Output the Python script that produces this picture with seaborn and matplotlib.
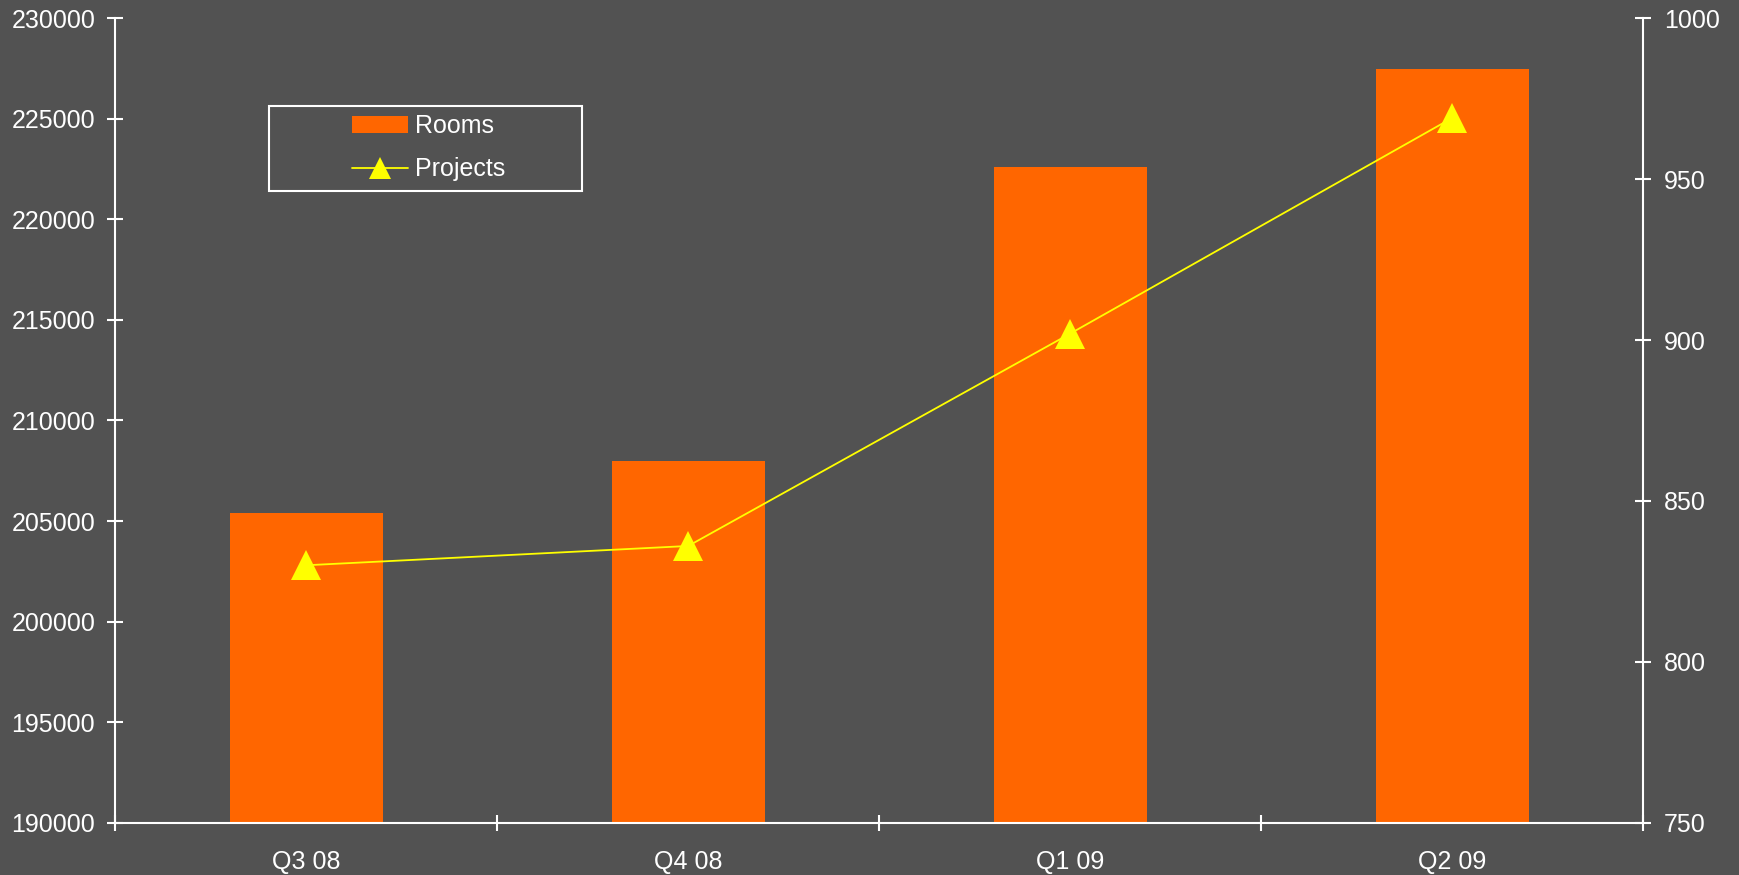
import numpy as np
import matplotlib
matplotlib.use("Agg")
import matplotlib.pyplot as plt
import seaborn as sns
from matplotlib.patches import Patch, Rectangle
from matplotlib.lines import Line2D

# ---- data ----
quarters = ["Q3 08", "Q4 08", "Q1 09", "Q2 09"]
rooms = [205400, 208000, 222600, 227500]
projects = [830, 836, 902, 969]
rooms_ticks = [190000, 195000, 200000, 205000, 210000, 215000, 220000, 225000, 230000]
projects_ticks = [750, 800, 850, 900, 950, 1000]

BG = "#525252"
ORANGE = "#FF6600"
YELLOW = "#FFFF00"
WHITE = "#FFFFFF"
FS = 18

sns.set_theme(style="white")
plt.rcParams["font.family"] = ["Liberation Sans", "DejaVu Sans"]
plt.rcParams["font.size"] = FS

fig = plt.figure(figsize=(17.4, 8.75), dpi=100, facecolor=BG)
ax = fig.add_axes([0.0663, 0.0598, 0.8780, 0.9193])
ax.set_facecolor(BG)

sns.barplot(x=quarters, y=rooms, ax=ax, color=ORANGE, saturation=1, width=0.4,
            edgecolor="none", linewidth=0)

ax2 = ax.twinx()
sns.pointplot(x=quarters, y=projects, ax=ax2, color=YELLOW, marker="^",
              linestyle="-", markersize=21, linewidth=1.3, errorbar=None,
              markeredgewidth=0)

ax.set_ylim(rooms_ticks[0], rooms_ticks[-1])
ax2.set_ylim(projects_ticks[0], projects_ticks[-1])
ax.set_xlim(-0.5, len(quarters) - 0.5)

ax.set_yticks(rooms_ticks)
ax.set_yticklabels([str(t) for t in rooms_ticks])
ax2.set_yticks(projects_ticks)
ax2.set_yticklabels([str(t) for t in projects_ticks])

# category boundary ticks (major), labels at centres (minor)
ax.set_xticks(np.arange(len(quarters) + 1) - 0.5, labels=[""] * (len(quarters) + 1))
ax.set_xticks(np.arange(len(quarters)), labels=quarters, minor=True)

for a in (ax, ax2):
    a.set_xlabel("")
    a.set_ylabel("")
    a.grid(False)

ax.tick_params(axis="y", which="major", direction="inout", length=12, width=1.5,
               color=WHITE, labelcolor=WHITE, labelsize=FS, pad=8.5, left=True)
ax.tick_params(axis="x", which="major", direction="inout", length=12, width=1.5,
               color=WHITE, bottom=True)
ax.tick_params(axis="x", which="minor", length=0, labelcolor=WHITE, labelsize=FS,
               pad=19.5, bottom=True, labelbottom=True)
ax2.tick_params(axis="y", which="major", direction="inout", length=12, width=1.5,
                color=WHITE, labelcolor=WHITE, labelsize=FS, pad=9, right=True)

for s in ("top", "right"):
    ax.spines[s].set_visible(False)
for s in ("left", "bottom"):
    ax.spines[s].set_color(WHITE)
    ax.spines[s].set_linewidth(1.5)
for s in ("top", "left", "bottom"):
    ax2.spines[s].set_visible(False)
ax2.spines["right"].set_color(WHITE)
ax2.spines["right"].set_linewidth(1.5)

# legend
handles = [
    Patch(facecolor=ORANGE, edgecolor="none", label="Rooms"),
    Line2D([0], [0], color=YELLOW, lw=1.3, marker="^", markersize=16,
           markeredgewidth=0, label="Projects"),
]
ax2.legend(handles=handles, loc="upper left", bbox_to_anchor=(0.155, 0.881),
           frameon=False, handlelength=2.24, handletextpad=0.28, borderpad=0,
           borderaxespad=0, labelspacing=0.77, labelcolor=WHITE, fontsize=FS)
ax2.add_patch(Rectangle((0.1006, 0.7853), 0.2049, 0.1057, transform=ax2.transAxes,
                        fill=False, edgecolor=WHITE, linewidth=1.5, zorder=5))

fig.savefig("out.png", dpi=100, facecolor=BG)
